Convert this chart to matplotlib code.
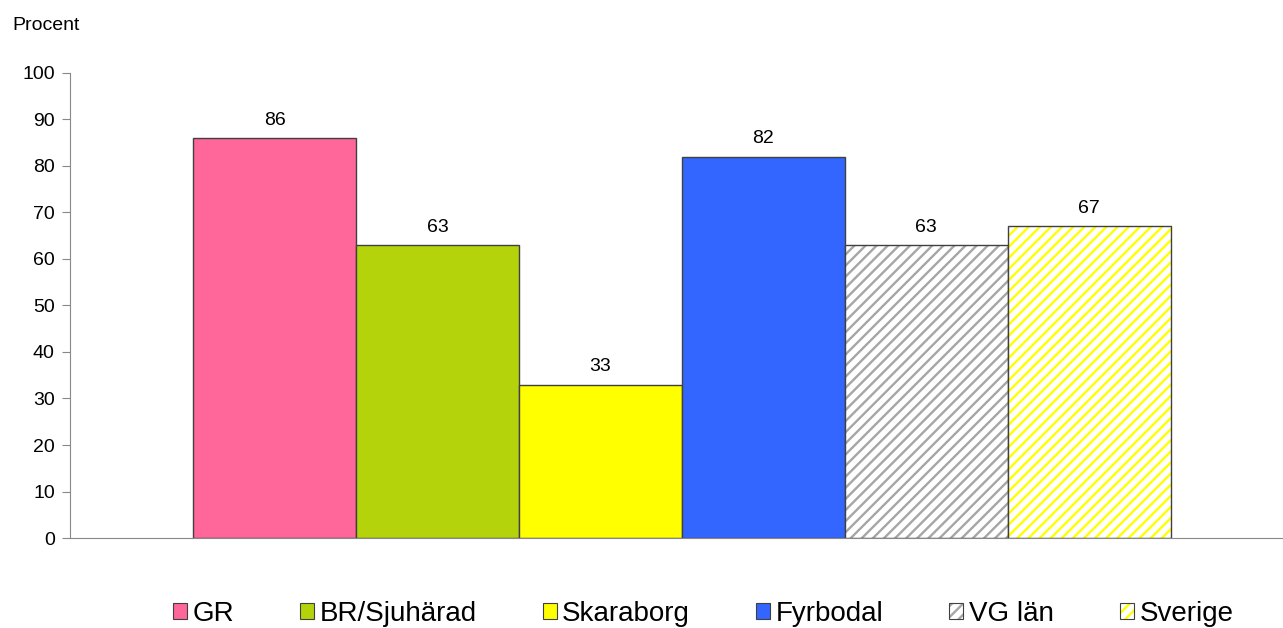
import matplotlib.pyplot as plt

plt.rcParams['font.family'] = ['Liberation Sans', 'DejaVu Sans']
plt.rcParams['hatch.linewidth'] = 1.7

regions = ['GR', 'BR/Sjuhärad', 'Skaraborg', 'Fyrbodal', 'VG län', 'Sverige']
values = [86, 63, 33, 82, 63, 67]
colors = ['#FF6699', '#B5D30B', '#FFFF00', '#3366FF', '#A6A6A6', '#FFFF00']
hatched = [False, False, False, False, True, True]
yticks = [0, 10, 20, 30, 40, 50, 60, 70, 80, 90, 100]

fig = plt.figure(figsize=(12.83, 6.28), dpi=100)
ax = fig.add_axes([0.0546, 0.1433, 0.9454, 0.7405])

handles = []
for i, (name, v, c, h) in enumerate(zip(regions, values, colors, hatched)):
    if h:
        # hatch drawn in the series colour on white, outline drawn separately
        ax.bar(i, v, width=1.0, color='white', edgecolor=c, hatch='///', linewidth=0)
        ax.bar(i, v, width=1.0, fill=False, edgecolor='#404040', linewidth=1.0)
        patch = plt.Rectangle((0, 0), 1, 1, facecolor='white', edgecolor=c, hatch='///', linewidth=0)
        frame = plt.Rectangle((0, 0), 1, 1, fill=False, edgecolor='#404040', linewidth=0.8)
        handles.append((patch, frame))
    else:
        ax.bar(i, v, width=1.0, color=c, edgecolor='#404040', linewidth=1.0)
        handles.append(plt.Rectangle((0, 0), 1, 1, facecolor=c, edgecolor='#404040', linewidth=0.8))
    ax.text(i, v + 2.0, str(v), ha='center', va='bottom', fontsize=14)

ax.set_xlim(-1.255, 6.19)
ax.set_ylim(0, 100)
ax.set_yticks(yticks)
ax.tick_params(axis='y', labelsize=14, length=6, color='#888888', direction='out', pad=5)
ax.set_xticks([])
for s in ['top', 'right']:
    ax.spines[s].set_visible(False)
ax.spines['left'].set_color('#888888')
ax.spines['bottom'].set_color('#888888')

fig.text(0.0094, 0.96, 'Procent', fontsize=14, va='center', ha='left')

fig.legend(handles, regions, loc='center', bbox_to_anchor=(0.548, 0.022), ncol=6,
           frameon=False, fontsize=20, handlelength=0.5, handleheight=0.5,
           handletextpad=0.2, columnspacing=2.38)

fig.savefig('out.png', dpi=100)
